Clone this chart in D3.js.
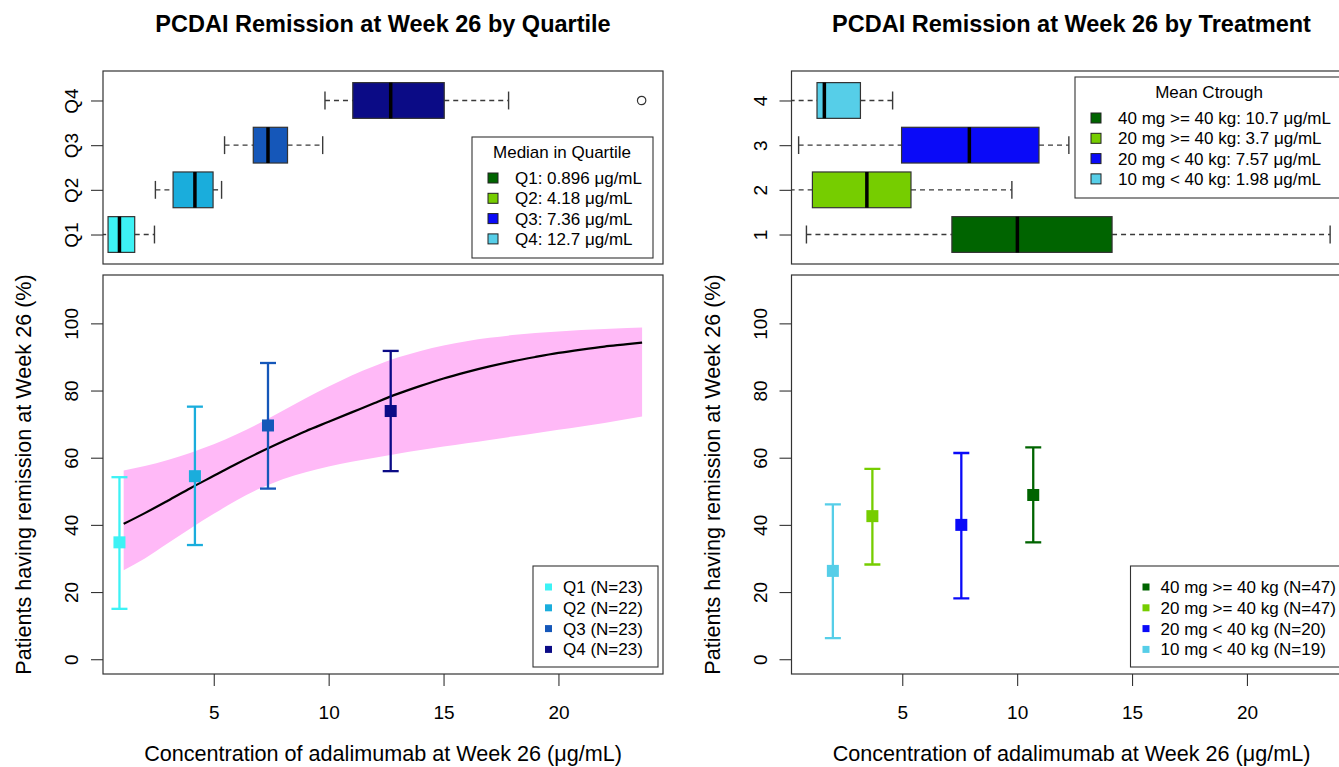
<!DOCTYPE html>
<html>
<head>
<meta charset="utf-8">
<script src="https://cdn.jsdelivr.net/npm/d3@7"></script>
<style>
  body { margin: 0; background: #fff; }
  text { font-family: "Liberation Sans", Arial, sans-serif; fill: #000; }
</style>
</head>
<body>
<div id="chart"></div>
<script>
// ---- quartile panel data (ug/mL, %) ----
let quartileNames = ["Q1", "Q2", "Q3", "Q4"];
let quartileLowWhisker = [0.1, 2.46, 5.47, 9.84];
let quartileLowHinge = [0.40, 3.23, 6.72, 11.05];
let quartileMedian = [0.896, 4.18, 7.36, 12.7];
let quartileHighHinge = [1.56, 4.97, 8.21, 15.03];
let quartileHighWhisker = [2.42, 5.34, 9.74, 17.83];
let quartileOutliers = [[], [], [], [23.62]];
let quartileN = [23, 22, 23, 23];
let quartileRemission = [34.8, 54.5, 69.6, 73.9];
let quartileCILow = [15.0, 34.0, 50.8, 56.0];
let quartileCIHigh = [54.2, 75.2, 88.2, 91.8];
let quartileColors = ["#3DF2F5", "#1AADDC", "#1557B9", "#0B0B86"];

// fitted exposure-response curve with its band
let curveConc = [1.08, 2, 3, 4, 5, 6, 7, 8, 9, 10, 11, 12, 13, 14, 15, 16, 17, 18, 19, 20, 21, 22, 23, 23.64];
let curveFit = [40.3, 43.5, 47.2, 51.0, 54.6, 58.2, 61.6, 64.8, 67.9, 70.7, 73.5, 76.3, 79.0, 81.4, 83.6, 85.5, 87.2, 88.7, 90.0, 91.2, 92.2, 93.1, 93.8, 94.3];
let bandUpper = [56.2, 57.5, 59.3, 61.5, 64.0, 67.0, 70.3, 74.0, 77.7, 81.2, 84.5, 87.3, 89.8, 91.8, 93.4, 94.7, 95.7, 96.5, 97.1, 97.6, 98.0, 98.3, 98.6, 98.8];
let bandLower = [26.5, 30.0, 34.5, 39.0, 43.3, 47.3, 50.8, 53.6, 55.7, 57.4, 58.8, 60.0, 61.2, 62.3, 63.3, 64.3, 65.3, 66.3, 67.3, 68.3, 69.3, 70.3, 71.5, 72.3];

// ---- treatment panel data ----
let treatBoxNames = ["1", "2", "3", "4"];
let treatNames = ["40 mg >= 40 kg", "20 mg >= 40 kg", "20 mg < 40 kg", "10 mg < 40 kg"];
let treatMean = [10.7, 3.7, 7.57, 1.98];
let treatLowWhisker = [0.83, 0.1, 0.49, 0.1];
let treatLowHinge = [7.16, 1.09, 4.97, 1.29];
let treatMedian = [10.01, 3.46, 7.92, 1.61];
let treatHighHinge = [14.13, 5.38, 10.95, 3.18];
let treatHighWhisker = [23.62, 9.77, 12.25, 4.58];
let treatOutliers = [[], [], [], []];
let treatN = [47, 47, 20, 19];
let treatRemission = [48.9, 42.6, 40.0, 26.3];
let treatCILow = [34.8, 28.2, 18.1, 6.3];
let treatCIHigh = [63.1, 56.7, 61.4, 46.1];
let treatColors = ["#006400", "#76CD00", "#0A0AF8", "#56CEE8"];

// axes
let xTicks = [5, 10, 15, 20];
let yTicks = [0, 20, 40, 60, 80, 100];
let xDomain = [0.18, 24.55];
let yDomain = [-4.4, 114.4];
let boxDomain = [0.34, 4.66];

let width = 1339, height = 767;
let frameW = 560,
    boxTop = 71, boxH = 193,
    mainTop = 275, mainH = 399;

let svg = d3.select("#chart").append("svg")
    .attr("width", width)
    .attr("height", height);

function styleAxis(g) {
    g.attr("font-family", null).attr("font-size", null);
    g.select(".domain").remove();
    g.selectAll(".tick line").attr("stroke", "#333").attr("stroke-width", 1.1);
    g.selectAll(".tick text").style("font-size", "19px").attr("fill", "#000");
}

function rotateLeftLabels(g) {
    g.selectAll(".tick text")
        .attr("x", null).attr("dy", null)
        .attr("text-anchor", "middle")
        .attr("transform", "translate(-25,0) rotate(-90)");
}

function drawPanel(p) {
    let x = d3.scaleLinear().domain(xDomain).range([0, frameW]);

    // ---------- top: boxplot ----------
    let gb = svg.append("g").attr("transform", "translate(" + p.left + "," + boxTop + ")");
    gb.append("clipPath").attr("id", "clipb" + p.id)
        .append("rect").attr("width", frameW).attr("height", boxH);
    let yb = d3.scaleLinear().domain(boxDomain).range([boxH, 0]);
    let halfBox = (yb(0) - yb(0.4));
    let halfStaple = halfBox / 2;

    let inner = gb.append("g").attr("clip-path", "url(#clipb" + p.id + ")");
    let rows = inner.selectAll(".row")
        .data(d3.range(4))
        .enter().append("g")
        .attr("transform", function(i) { return "translate(0," + yb(i + 1) + ")"; });

    rows.append("line")
        .attr("x1", function(i) { return x(p.lowW[i]); })
        .attr("x2", function(i) { return x(p.lowH[i]); })
        .attr("stroke", "#3a3a3a").attr("stroke-dasharray", "5,4").attr("stroke-width", 1.4);
    rows.append("line")
        .attr("x1", function(i) { return x(p.highH[i]); })
        .attr("x2", function(i) { return x(p.highW[i]); })
        .attr("stroke", "#3a3a3a").attr("stroke-dasharray", "5,4").attr("stroke-width", 1.4);
    rows.append("line")
        .attr("x1", function(i) { return x(p.lowW[i]); })
        .attr("x2", function(i) { return x(p.lowW[i]); })
        .attr("y1", -halfStaple).attr("y2", halfStaple)
        .attr("stroke", "#3a3a3a").attr("stroke-width", 1.4);
    rows.append("line")
        .attr("x1", function(i) { return x(p.highW[i]); })
        .attr("x2", function(i) { return x(p.highW[i]); })
        .attr("y1", -halfStaple).attr("y2", halfStaple)
        .attr("stroke", "#3a3a3a").attr("stroke-width", 1.4);
    rows.append("rect")
        .attr("x", function(i) { return x(p.lowH[i]); })
        .attr("width", function(i) { return x(p.highH[i]) - x(p.lowH[i]); })
        .attr("y", -halfBox)
        .attr("height", 2 * halfBox)
        .attr("fill", function(i) { return p.boxColors[i]; })
        .attr("stroke", "#333").attr("stroke-width", 1.2);
    rows.append("line")
        .attr("x1", function(i) { return x(p.med[i]); })
        .attr("x2", function(i) { return x(p.med[i]); })
        .attr("y1", -halfBox).attr("y2", halfBox)
        .attr("stroke", "#000").attr("stroke-width", 3.5);
    rows.selectAll("circle")
        .data(function(i) { return p.outliers[i]; })
        .enter().append("circle")
        .attr("cx", function(d) { return x(d); })
        .attr("r", 4.2)
        .attr("fill", "none").attr("stroke", "#333").attr("stroke-width", 1.2);

    gb.append("g")
        .call(d3.axisLeft(yb).tickValues([1, 2, 3, 4]).tickSize(12)
            .tickFormat(function(d) { return p.boxNames[d - 1]; }))
        .call(styleAxis)
        .call(rotateLeftLabels);

    // legend in the boxplot
    let lt = gb.append("g").attr("transform", "translate(" + p.topLeg.x + "," + p.topLeg.y + ")");
    lt.append("rect").attr("width", p.topLeg.w).attr("height", 121)
        .attr("fill", "#fff").attr("stroke", "#333").attr("stroke-width", 1.1);
    lt.append("text").attr("x", p.topLeg.titleX).attr("y", 15).attr("dy", "0.35em")
        .attr("text-anchor", "middle").style("font-size", "17px").text(p.topLeg.title);
    let ltr = lt.selectAll(".item").data(d3.range(4)).enter().append("g")
        .attr("transform", function(i) { return "translate(0," + (41 + i * 20.3) + ")"; });
    ltr.append("rect").attr("x", 16).attr("y", -5).attr("width", 10).attr("height", 10)
        .attr("fill", function(i) { return treatColors[i]; })
        .attr("stroke", "#222").attr("stroke-width", 1);
    ltr.append("text").attr("x", 43).attr("dy", "0.35em").style("font-size", "17px")
        .text(function(i) { return p.topLeg.labels[i]; });

    gb.append("rect").attr("width", frameW).attr("height", boxH)
        .attr("fill", "none").attr("stroke", "#333").attr("stroke-width", 1.2);

    // ---------- bottom: remission vs concentration ----------
    let gm = svg.append("g").attr("transform", "translate(" + p.left + "," + mainTop + ")");
    let y = d3.scaleLinear().domain(yDomain).range([mainH, 0]);
    gm.append("clipPath").attr("id", "clipm" + p.id)
        .append("rect").attr("width", frameW).attr("height", mainH);
    let plot = gm.append("g").attr("clip-path", "url(#clipm" + p.id + ")");

    if (p.curve) {
        let area = d3.area()
            .x(function(d, i) { return x(curveConc[i]); })
            .y0(function(d, i) { return y(bandLower[i]); })
            .y1(function(d, i) { return y(bandUpper[i]); })
            .curve(d3.curveMonotoneX);
        plot.append("path").datum(curveConc).attr("d", area).attr("fill", "#FFB9F7");
        let line = d3.line()
            .x(function(d, i) { return x(curveConc[i]); })
            .y(function(d, i) { return y(curveFit[i]); })
            .curve(d3.curveMonotoneX);
        plot.append("path").datum(curveConc).attr("d", line)
            .attr("fill", "none").attr("stroke", "#000").attr("stroke-width", 2.2);
    }

    let pts = plot.selectAll(".pt").data(d3.range(4)).enter().append("g")
        .attr("transform", function(i) { return "translate(" + x(p.ptX[i]) + ",0)"; });
    pts.append("line")
        .attr("y1", function(i) { return y(p.ciLow[i]); })
        .attr("y2", function(i) { return y(p.ciHigh[i]); })
        .attr("stroke", function(i) { return p.ptColors[i]; }).attr("stroke-width", 2.3);
    pts.append("line").attr("x1", -8).attr("x2", 8)
        .attr("y1", function(i) { return y(p.ciLow[i]); })
        .attr("y2", function(i) { return y(p.ciLow[i]); })
        .attr("stroke", function(i) { return p.ptColors[i]; }).attr("stroke-width", 2.3);
    pts.append("line").attr("x1", -8).attr("x2", 8)
        .attr("y1", function(i) { return y(p.ciHigh[i]); })
        .attr("y2", function(i) { return y(p.ciHigh[i]); })
        .attr("stroke", function(i) { return p.ptColors[i]; }).attr("stroke-width", 2.3);
    pts.append("rect").attr("x", -6).attr("width", 12).attr("height", 12)
        .attr("y", function(i) { return y(p.rem[i]) - 6; })
        .attr("fill", function(i) { return p.ptColors[i]; });

    gm.append("g")
        .attr("transform", "translate(0," + mainH + ")")
        .call(d3.axisBottom(x).tickValues(xTicks).tickSize(12))
        .call(styleAxis)
        .call(function(g) { g.selectAll(".tick text").attr("y", 45).attr("dy", null); });
    gm.append("g")
        .call(d3.axisLeft(y).tickValues(yTicks).tickSize(12))
        .call(styleAxis)
        .call(rotateLeftLabels);

    // legend
    let lb = gm.append("g").attr("transform", "translate(" + p.botLeg.x + ",291)");
    lb.append("rect").attr("width", p.botLeg.w).attr("height", 101)
        .attr("fill", "#fff").attr("stroke", "#333").attr("stroke-width", 1.1);
    let lbr = lb.selectAll(".item").data(d3.range(4)).enter().append("g")
        .attr("transform", function(i) { return "translate(0," + (21 + i * 20.8) + ")"; });
    lbr.append("rect").attr("x", 12).attr("y", -3.5).attr("width", 7).attr("height", 7)
        .attr("fill", function(i) { return p.ptColors[i]; });
    lbr.append("text").attr("x", 30).attr("dy", "0.35em").style("font-size", "17px")
        .text(function(i) { return p.botLeg.labels[i]; });

    gm.append("rect").attr("width", frameW).attr("height", mainH)
        .attr("fill", "none").attr("stroke", "#333").attr("stroke-width", 1.2);

    // titles
    svg.append("text")
        .attr("x", p.left + frameW / 2).attr("y", 32)
        .attr("text-anchor", "middle")
        .style("font-size", "23.5px").style("font-weight", "bold")
        .text(p.title);
    svg.append("text")
        .attr("x", p.left + frameW / 2).attr("y", 761)
        .attr("text-anchor", "middle")
        .style("font-size", "21.6px")
        .text("Concentration of adalimumab at Week 26 (\u03bcg/mL)");
    svg.append("text")
        .attr("transform", "translate(" + (p.left - 72) + "," + (mainTop + mainH / 2) + ") rotate(-90)")
        .attr("text-anchor", "middle")
        .style("font-size", "21.6px")
        .text("Patients having remission at Week 26 (%)");
}

drawPanel({
    id: "q", left: 103,
    title: "PCDAI Remission at Week 26 by Quartile",
    boxNames: quartileNames,
    lowW: quartileLowWhisker, lowH: quartileLowHinge, med: quartileMedian,
    highH: quartileHighHinge, highW: quartileHighWhisker, outliers: quartileOutliers,
    boxColors: quartileColors,
    topLeg: {
        x: 369, y: 66, w: 181, titleX: 90, title: "Median in Quartile",
        labels: quartileNames.map(function(q, i) { return q + ": " + quartileMedian[i] + " \u03bcg/mL"; })
    },
    curve: true,
    ptX: quartileMedian, rem: quartileRemission, ciLow: quartileCILow, ciHigh: quartileCIHigh,
    ptColors: quartileColors,
    botLeg: {
        x: 430, w: 125,
        labels: quartileNames.map(function(q, i) { return q + " (N=" + quartileN[i] + ")"; })
    }
});

drawPanel({
    id: "t", left: 791.5,
    title: "PCDAI Remission at Week 26 by Treatment",
    boxNames: treatBoxNames,
    lowW: treatLowWhisker, lowH: treatLowHinge, med: treatMedian,
    highH: treatHighHinge, highW: treatHighWhisker, outliers: treatOutliers,
    boxColors: treatColors,
    topLeg: {
        x: 283.5, y: 6, w: 272, titleX: 134, title: "Mean Ctrough",
        labels: treatNames.map(function(t, i) { return t + ": " + treatMean[i] + " \u03bcg/mL"; })
    },
    curve: false,
    ptX: treatMean, rem: treatRemission, ciLow: treatCILow, ciHigh: treatCIHigh,
    ptColors: treatColors,
    botLeg: {
        x: 339, w: 216,
        labels: treatNames.map(function(t, i) { return t + " (N=" + treatN[i] + ")"; })
    }
});
</script>
</body>
</html>
